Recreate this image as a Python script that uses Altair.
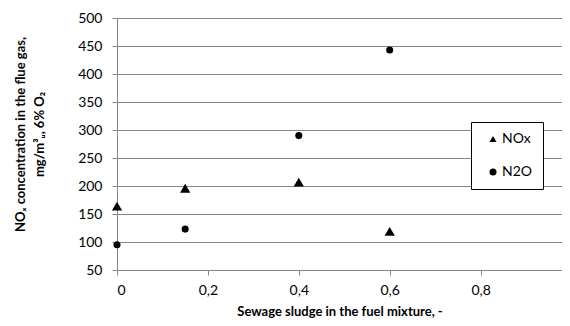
import altair as alt
import pandas as pd

x_vals = [0, 0.15, 0.4, 0.6]
nox = [164, 196, 207, 119]
n2o = [95, 123, 290, 443]
series = ["NOx", "N2O"]
shapes = ["triangle-up", "circle"]

rows = []
for s, ys in zip(series, [nox, n2o]):
    for xv, yv in zip(x_vals, ys):
        rows.append({"x": xv, "y": yv, "series": s})
df = pd.DataFrame(rows)

FONT = "Lato"
PLOT_W = 445
FULL_W = 454.5  # pixel span of 0..1 in the reference (right part cut off by window)

chart = alt.Chart(df).mark_point(filled=True, opacity=1, color="black").encode(
    x=alt.X("x:Q", scale=alt.Scale(domain=[0, PLOT_W / FULL_W], nice=False),
            axis=alt.Axis(values=[0, 0.2, 0.4, 0.6, 0.8, 1], grid=False,
                          labelExpr="replace(format(datum.value, '~g'), '.', ',')",
                          title="Sewage sludge in the fuel mixture, -",
                          titleFontSize=13, titlePadding=8, labelPadding=8)),
    y=alt.Y("y:Q", scale=alt.Scale(domain=[50, 500], nice=False, zero=False),
            axis=alt.Axis(values=list(range(50, 501, 50)), grid=True,
                          title=["NOₓ concentration in the flue gas,", "mg/m³ᵤ, 6% O₂"],
                          titleFontSize=13, titleLineHeight=19, titleY=116,
                          titlePadding=31, labelPadding=10)),
    shape=alt.Shape("series:N", scale=alt.Scale(domain=series, range=shapes),
                    legend=alt.Legend(title=None, orient="none", legendX=354, legendY=104,
                                      fillColor="white", strokeColor="black",
                                      padding=10, rowPadding=19, symbolSize=50,
                                      symbolFillColor="black", symbolStrokeColor="black",
                                      labelFontSize=14, labelFont=FONT, labelColor="black",
                                      symbolOffset=5, labelOffset=2)),
    size=alt.condition("datum.series == 'NOx'", alt.value(105), alt.value(50)),
).properties(
    width=PLOT_W, height=252,
    autosize=alt.AutoSizeParams(type="none"),
    padding={"left": 109, "top": 10, "right": 0, "bottom": 48},
    background="white",
).configure_view(stroke=None).configure_axis(
    labelFont=FONT, labelFontSize=14, labelColor="black",
    titleFont=FONT, titleFontWeight="bold", titleColor="black",
    domainColor="#868686", tickColor="#868686", gridColor="#868686",
    tickSize=5,
)

chart.save("out.html", embed_options={"renderer": "svg", "actions": False})
